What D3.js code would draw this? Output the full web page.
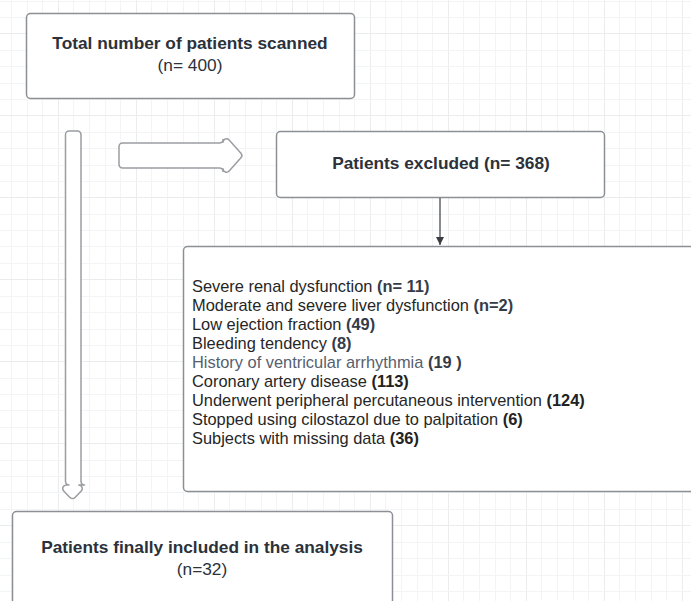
<!DOCTYPE html>
<html>
<head>
<meta charset="utf-8">
<script src="https://cdn.jsdelivr.net/npm/d3@7"></script>
<style>
  body { margin: 0; background: #fff; }
  svg text { font-family: "Liberation Sans", Arial, sans-serif; }
</style>
</head>
<body>
<div id="chart"></div>
<script>
// flow chart data
var boxTitles = ["Total number of patients scanned", "Patients excluded (n= 368)", "Patients finally included in the analysis"];
var boxCounts = ["(n= 400)", "", "(n=32)"];

var reasons = [
    "Severe renal dysfunction ",
    "Moderate and severe liver dysfunction ",
    "Low ejection fraction ",
    "Bleeding tendency ",
    "History of ventricular arrhythmia ",
    "Coronary artery disease ",
    "Underwent peripheral percutaneous intervention ",
    "Stopped using cilostazol due to palpitation ",
    "Subjects with missing data "
];
var reasonCounts = ["(n= 11)", "(n=2)", "(49)", "(8)", "(19 )", "(113)", "(124)", "(6)", "(36)"];

var width = 691, height = 601;

var svg = d3.select("#chart").append("svg")
    .attr("width", width)
    .attr("height", height);

// background grid
var gx = d3.range(11 - 15.6, width, 15.6);
var gy = d3.range(0.5, height, 16.4);
svg.append("g").selectAll("line.vx")
    .data(gx)
    .enter().append("line")
    .attr("x1", d => Math.round(d) + 0.5).attr("x2", d => Math.round(d) + 0.5)
    .attr("y1", 0).attr("y2", height)
    .attr("stroke", (d, i) => i % 5 == 4 ? "#eaeced" : "#f3f4f5")
    .attr("stroke-width", 1);
svg.append("g").selectAll("line.hy")
    .data(gy)
    .enter().append("line")
    .attr("y1", d => Math.round(d) + 0.5).attr("y2", d => Math.round(d) + 0.5)
    .attr("x1", 0).attr("x2", width)
    .attr("stroke", (d, i) => i % 5 == 2 ? "#eaeced" : "#f3f4f5")
    .attr("stroke-width", 1);

// rounded polygon helper
function roundedPoly(pts, r) {
    var p = d3.path();
    var n = pts.length;
    var start = [(pts[0][0] + pts[n-1][0]) / 2, (pts[0][1] + pts[n-1][1]) / 2];
    p.moveTo(start[0], start[1]);
    for (var i = 0; i < n; i++) {
        var a = pts[i], b = pts[(i + 1) % n];
        p.arcTo(a[0], a[1], b[0], b[1], r);
    }
    p.closePath();
    return p.toString();
}

var boxStroke = "#8c8f93";

// boxes
var boxes = [
    {x: 26, y: 13, w: 328, h: 85},
    {x: 276, y: 131, w: 328, h: 66},
    {x: 12, y: 511, w: 380, h: 120}
];
svg.append("g").selectAll("rect")
    .data(boxes)
    .enter().append("rect")
    .attr("x", d => d.x + 0.5).attr("y", d => d.y + 0.5)
    .attr("width", d => d.w).attr("height", d => d.h)
    .attr("rx", 4)
    .attr("fill", "#fff")
    .attr("stroke", boxStroke)
    .attr("stroke-width", 1.5);

// list box (runs off right edge)
svg.append("rect")
    .attr("x", 183.5).attr("y", 246.5)
    .attr("width", 560).attr("height", 245)
    .attr("rx", 4)
    .attr("fill", "#fff")
    .attr("stroke", boxStroke)
    .attr("stroke-width", 1.5);

// hollow arrows
var arrowStroke = "#9a9da1";
var vArrow = [[65.5, 131], [81, 131], [81, 485], [87, 485], [72.5, 500], [58, 485], [65.5, 485]];
var hArrow = [[119, 143], [223, 143], [223, 133], [243, 155.5], [223, 178], [223, 168], [119, 168]];
svg.selectAll("path.hollow")
    .data([vArrow, hArrow])
    .enter().append("path")
    .attr("class", "hollow")
    .attr("d", d => roundedPoly(d, 3.5))
    .attr("fill", "#fff")
    .attr("stroke", arrowStroke)
    .attr("stroke-width", 1.5)
    .attr("stroke-linejoin", "round");

// connector arrow
svg.append("defs").append("marker")
    .attr("id", "tri")
    .attr("viewBox", "0 0 10 10")
    .attr("refX", 10).attr("refY", 5)
    .attr("markerWidth", 8).attr("markerHeight", 8)
    .attr("markerUnits", "userSpaceOnUse")
    .attr("orient", "auto")
    .append("path")
    .attr("d", "M0,0 L10,5 L0,10 Z")
    .attr("fill", "#3a3d42");
svg.append("line")
    .attr("x1", 440).attr("y1", 198)
    .attr("x2", 440).attr("y2", 245)
    .attr("stroke", "#3a3d42")
    .attr("stroke-width", 1.2)
    .attr("marker-end", "url(#tri)");

// box titles
var titlePos = [
    {cx: 190, y: 49},
    {cx: 441, y: 169},
    {cx: 202, y: 553}
];
var titleColor = "#2c313a";
svg.append("g").selectAll("text")
    .data(boxTitles)
    .enter().append("text")
    .attr("x", (d, i) => titlePos[i].cx)
    .attr("y", (d, i) => titlePos[i].y)
    .attr("text-anchor", "middle")
    .attr("font-size", 17.3)
    .attr("font-weight", "bold")
    .attr("fill", titleColor)
    .text(d => d);
svg.append("g").selectAll("text")
    .data(boxCounts)
    .enter().append("text")
    .attr("x", (d, i) => titlePos[i].cx)
    .attr("y", (d, i) => titlePos[i].y + 22)
    .attr("text-anchor", "middle")
    .attr("font-size", 17.3)
    .attr("fill", titleColor)
    .text(d => d);

// exclusion list
var y = d3.scalePoint()
    .domain(d3.range(reasons.length))
    .range([292, 444]);
var rows = svg.append("g").selectAll("text")
    .data(reasons)
    .enter().append("text")
    .attr("x", 192)
    .attr("y", (d, i) => y(i))
    .attr("font-size", 16.4)
    .attr("fill", "#262626");
rows.append("tspan")
    .attr("fill", (d, i) => i == 4 ? "#56606e" : "#262626")
    .text(d => d);
rows.append("tspan")
    .attr("font-weight", "bold")
    .attr("fill", (d, i) => i < 5 ? "#353c48" : "#222")
    .text((d, i) => reasonCounts[i]);
</script>
</body>
</html>
